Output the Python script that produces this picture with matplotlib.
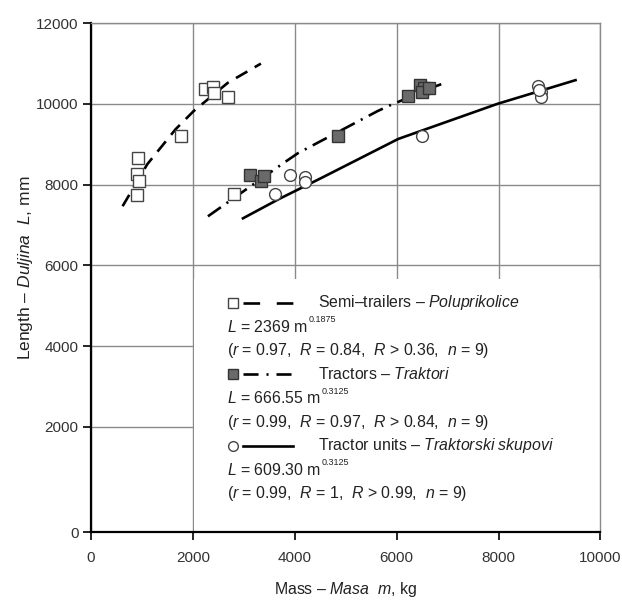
"""Length vs mass scatter with fitted curves (semi-trailers, tractors, tractor units)."""
import matplotlib
matplotlib.use("Agg")
import matplotlib.pyplot as plt
from matplotlib.patches import Rectangle

# measured points
semi_mass = [930, 910, 945, 910, 1770, 2245, 2395, 2420, 2685, 2815]
semi_len = [8650, 8260, 8100, 7750, 9205, 10375, 10420, 10260, 10175, 7770]
tractor_mass = [3120, 3335, 3390, 4840, 6230, 6460, 6540, 6505, 6625]
tractor_len = [8235, 8095, 8205, 9210, 10190, 10455, 10400, 10290, 10390]
unit_mass = [3610, 3905, 4205, 4195, 6495, 8775, 8840, 8840, 8800]
unit_len = [7765, 8240, 8190, 8070, 9210, 10430, 10290, 10165, 10350]

# fitted curves
semi_fit_m = [620, 1105, 1660, 2015, 2685, 3335]
semi_fit_L = [7465, 8505, 9370, 9820, 10520, 10995]
tractor_fit_m = [2295, 3815, 4065, 5625, 5865, 6755, 6990]
tractor_fit_L = [7215, 8565, 8780, 9820, 9960, 10430, 10540]
unit_fit_m = [2960, 3685, 4500, 6030, 7980, 9535]
unit_fit_L = [7150, 7640, 8150, 9130, 10000, 10595]

x_ticks = [0, 2000, 4000, 6000, 8000, 10000]
# the original's x-axis sits a little below the 0 level; its "0" label marks the axis
y_bottom = -600
y_ticks = [y_bottom, 2000, 4000, 6000, 8000, 10000, 12000]
y_ticklabels = ["0", "2000", "4000", "6000", "8000", "10000", "12000"]

legend_names = [
    "Semi–trailers – $\\mathit{Poluprikolice}$",
    "Tractors – $\\mathit{Traktori}$",
    "Tractor units – $\\mathit{Traktorski\\ skupovi}$",
]
legend_eqs = [
    ("$\\mathit{L}$ = 2369 m", "0.1875"),
    ("$\\mathit{L}$ = 666.55 m", "0.3125"),
    ("$\\mathit{L}$ = 609.30 m", "0.3125"),
]
legend_stats = [
    "($\\mathit{r}$ = 0.97,  $\\mathit{R}$ = 0.84,  $\\mathit{R}$ > 0.36,  $\\mathit{n}$ = 9)",
    "($\\mathit{r}$ = 0.99,  $\\mathit{R}$ = 0.97,  $\\mathit{R}$ > 0.84,  $\\mathit{n}$ = 9)",
    "($\\mathit{r}$ = 0.99,  $\\mathit{R}$ = 1,  $\\mathit{R}$ > 0.99,  $\\mathit{n}$ = 9)",
]

plt.rcParams["font.family"] = ["Liberation Sans", "DejaVu Sans"]
plt.rcParams["mathtext.fontset"] = "custom"
plt.rcParams["mathtext.rm"] = "Liberation Sans"
plt.rcParams["mathtext.it"] = "Liberation Sans:italic"
plt.rcParams["mathtext.bf"] = "Liberation Sans:bold"

TXT = "#222222"
GRID = "#8a8a8a"
FS = 11.4

fig = plt.figure(figsize=(6.22, 6.01), dpi=100)
ax = fig.add_axes([0.1463, 0.1148, 0.8191, 0.8469])

ax.set_xlim(0, 10000)
ax.set_ylim(y_bottom, 12000)
ax.set_xticks(x_ticks)
ax.set_yticks(y_ticks)
ax.set_yticklabels(y_ticklabels)
ax.grid(True, color=GRID, linewidth=1.0)
ax.set_axisbelow(True)

for side in ("top", "right"):
    ax.spines[side].set_color(GRID)
    ax.spines[side].set_linewidth(1.0)
for side in ("left", "bottom"):
    ax.spines[side].set_color("black")
    ax.spines[side].set_linewidth(1.6)
ax.tick_params(direction="out", length=5.5, width=1.2, colors="black",
               labelcolor="#333333", labelsize=11)
ax.tick_params(axis="x", pad=8.5)
ax.tick_params(axis="y", pad=3.5)

# white panel behind the legend, hiding the grid there
ax.add_patch(Rectangle((0.203, 0.0), 0.797, 0.4965, transform=ax.transAxes,
                       facecolor="white", edgecolor="none", zorder=1))

lw = 1.9
semi_dash = (5.0, 3.2)
tractor_dash = (6.0, 2.6, 0.8, 2.6)

ax.plot(semi_fit_m, semi_fit_L, color="black", lw=lw, dashes=semi_dash, zorder=3)
ax.plot(tractor_fit_m, tractor_fit_L, color="black", lw=lw, dashes=tractor_dash, zorder=3)
ax.plot(unit_fit_m, unit_fit_L, color="black", lw=lw, solid_capstyle="butt", zorder=3)

mk = dict(linestyle="none", markersize=8.5, markeredgewidth=1.0, zorder=4)
ax.plot(semi_mass, semi_len, marker="s", markerfacecolor="white",
        markeredgecolor="#444444", **mk)
ax.plot(tractor_mass, tractor_len, marker="s", markerfacecolor="#6a6a6a",
        markeredgecolor="#333333", **mk)
ax.plot(unit_mass, unit_len, marker="o", markerfacecolor="white",
        markeredgecolor="#444444", **mk)

# legend, laid out by hand
row0 = 0.450
step = 0.0468
x_mark, x_line0, x_line1 = 0.278, 0.298, 0.396
x_name, x_eq = 0.4455, 0.266
styles = [
    dict(marker="s", mfc="white", mec="#444444", dashes=(6.3, 6.3)),
    dict(marker="s", mfc="#6a6a6a", mec="#333333", dashes=(5.7, 3.0, 0.8, 3.0)),
    dict(marker="o", mfc="white", mec="#444444", dashes=None),
]
for i in range(3):
    y = row0 - 3 * i * step
    st = styles[i]
    ax.plot([x_mark], [y], transform=ax.transAxes, linestyle="none", marker=st["marker"],
            markerfacecolor=st["mfc"], markeredgecolor=st["mec"], markersize=7,
            markeredgewidth=1.0, clip_on=False, zorder=5)
    line_kw = dict(transform=ax.transAxes, color="black", lw=lw, clip_on=False, zorder=5)
    if st["dashes"] is not None:
        line_kw["dashes"] = st["dashes"]
    ax.plot([x_line0, x_line1], [y, y], **line_kw)
    ax.text(x_name, y, legend_names[i], transform=ax.transAxes, ha="left", va="center",
            fontsize=FS, color=TXT, zorder=5)
    eq_text, power = legend_eqs[i]
    t = ax.text(x_eq, y - step, eq_text, transform=ax.transAxes, ha="left",
                va="center", fontsize=FS, color=TXT, zorder=5)
    ax.annotate(power, xy=(1.0, 0.95), xycoords=t, xytext=(1, 0),
                textcoords="offset points", ha="left", va="center",
                fontsize=6.5, color=TXT, zorder=5)
    ax.text(x_eq, y - 2 * step, legend_stats[i], transform=ax.transAxes, ha="left",
            va="center", fontsize=FS, color=TXT, zorder=5)

ax.set_xlabel("Mass – $\\mathit{Masa}$  $\\mathit{m}$, kg", fontsize=11.4, color=TXT)
ax.set_ylabel("Length – $\\mathit{Duljina}$  $\\mathit{L}$, mm", fontsize=12.5, color=TXT)
ax.xaxis.set_label_coords(0.5, -0.113)
ax.xaxis.label.set_va("center")
ax.yaxis.set_label_coords(-0.11, 0.52)

fig.savefig("out.png", dpi=100)
